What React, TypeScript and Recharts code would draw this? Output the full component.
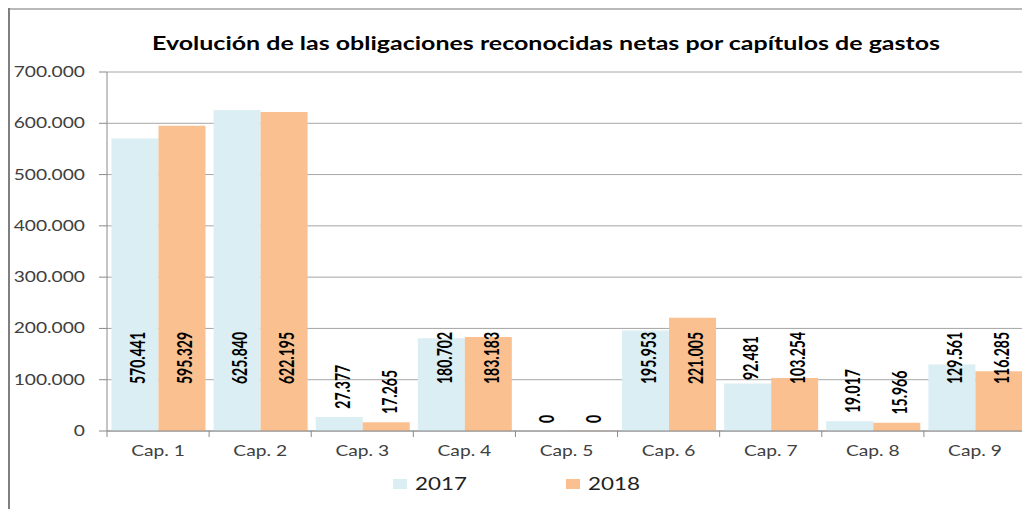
import { BarChart, Bar, XAxis, YAxis, CartesianGrid, LabelList } from "recharts";

// Obligaciones reconocidas netas por capítulos de gastos (2017 vs 2018)

const categories = ["Cap. 1", "Cap. 2", "Cap. 3", "Cap. 4", "Cap. 5", "Cap. 6", "Cap. 7", "Cap. 8", "Cap. 9"];
const values2017 = [570441, 625840, 27377, 180702, 0, 195953, 92481, 19017, 129561];
const values2018 = [595329, 622195, 17265, 183183, 0, 221005, 103254, 15966, 116285];
const seriesNames = ["2017", "2018"];
const yTicks = [0, 100000, 200000, 300000, 400000, 500000, 600000, 700000];

const data = categories.map((cap, i) => ({
  cap,
  y2017: values2017[i],
  y2018: values2018[i],
}));

const CHART_W = 1040;
const CHART_H = 509;
const Y_AXIS_W = 107;
const MARGIN_RIGHT = 14;
const BAND = (CHART_W - Y_AXIS_W - MARGIN_RIGHT) / categories.length;

const COLOR_2017 = "#DAEEF3";
const COLOR_2018 = "#FAC090";
const AXIS = "#8a8a8a";
const GRID = "#a6a6a6";
const TEXT = "#404040";

// separador de miles con punto
const fmt = (v: number) => String(Math.round(v)).replace(/\B(?=(\d{3})+(?!\d))/g, ".");

function XTick(props: any) {
  const { x, y, payload, index } = props;
  const half = BAND / 2;
  return (
    <g>
      <line x1={x - half} x2={x - half} y1={y} y2={y + 6} stroke={AXIS} />
      {index === categories.length - 1 && (
        <line x1={x + half} x2={x + half} y1={y} y2={y + 6} stroke={AXIS} />
      )}
      <text
        transform={`translate(${x},${y + 25}) scale(1.28,1)`}
        textAnchor="middle"
        fontFamily="Lato"
        fontSize={15}
        fill={TEXT}
      >
        {payload.value}
      </text>
    </g>
  );
}

function YTick(props: any) {
  const { x, y, payload } = props;
  return (
    <text
      transform={`translate(${x},${y + 5}) scale(1.28,1)`}
      textAnchor="end"
      fontFamily="Lato"
      fontSize={15}
      fill={TEXT}
    >
      {fmt(payload.value)}
    </text>
  );
}

function BarLabel(props: any) {
  const x = Number(props.x);
  const y = Number(props.y);
  const width = Number(props.width);
  const height = Number(props.height);
  const txt = fmt(Number(props.value));
  const base = y + height;
  const half = txt.length * 3.7;
  const cx = x + width / 2 + 2;
  const cy = Math.max(y - 8 - half, base - 73);
  return (
    <text
      transform={`translate(${cx},${cy}) rotate(-90) scale(1,1.55)`}
      textAnchor="middle"
      dominantBaseline="central"
      fontFamily="Lato"
      fontWeight="bold"
      fontSize={14}
      fill="#000"
    >
      {txt}
    </text>
  );
}

export default function App() {
  return (
    <div
      style={{
        position: "absolute",
        left: 0,
        top: 0,
        width: 1022,
        height: 509,
        overflow: "hidden",
        background: "#fff",
      }}
    >
      <BarChart
        width={CHART_W}
        height={CHART_H}
        data={data}
        margin={{ top: 72, right: MARGIN_RIGHT, left: 0, bottom: 0 }}
        barCategoryGap="4.4%"
        barGap={0}
      >
        <CartesianGrid vertical={false} stroke={GRID} />
        <XAxis
          dataKey="cap"
          height={78}
          axisLine={{ stroke: AXIS }}
          tickLine={false}
          tickSize={0}
          tickMargin={0}
          interval={0}
          tick={<XTick />}
        />
        <YAxis
          width={Y_AXIS_W}
          domain={[0, 700000]}
          ticks={yTicks}
          interval={0}
          axisLine={{ stroke: AXIS }}
          tickLine={{ stroke: AXIS }}
          tickSize={8}
          tickMargin={14}
          tick={<YTick />}
        />
        <Bar dataKey="y2017" name={seriesNames[0]} fill={COLOR_2017} minPointSize={0.3} isAnimationActive={false}>
          <LabelList dataKey="y2017" content={<BarLabel />} />
        </Bar>
        <Bar dataKey="y2018" name={seriesNames[1]} fill={COLOR_2018} minPointSize={0.3} isAnimationActive={false}>
          <LabelList dataKey="y2018" content={<BarLabel />} />
        </Bar>
      </BarChart>

      {/* título, leyenda y marco */}
      <svg
        width={1022}
        height={509}
        style={{ position: "absolute", left: 0, top: 0, pointerEvents: "none" }}
      >
        <line x1={8} x2={1022} y1={9} y2={9} stroke="#a0a0a0" strokeWidth={1.5} />
        <line x1={9} x2={9} y1={8} y2={509} stroke="#7f7f7f" strokeWidth={2} />
        <text
          x={546}
          y={50}
          textAnchor="middle"
          fontFamily="Lato"
          fontWeight="bold"
          fontSize={19}
          fill="#000"
          textLength={788}
          lengthAdjust="spacingAndGlyphs"
        >
          Evolución de las obligaciones reconocidas netas por capítulos de gastos
        </text>
        <rect x={393} y={479} width={14} height={10} fill={COLOR_2017} />
        <text transform="translate(415,490) scale(1.28,1)" fontFamily="Lato" fontSize={17.5} fill="#222">
          {seriesNames[0]}
        </text>
        <rect x={566} y={479} width={14} height={10} fill={COLOR_2018} />
        <text transform="translate(588,490) scale(1.28,1)" fontFamily="Lato" fontSize={17.5} fill="#222">
          {seriesNames[1]}
        </text>
      </svg>
    </div>
  );
}
